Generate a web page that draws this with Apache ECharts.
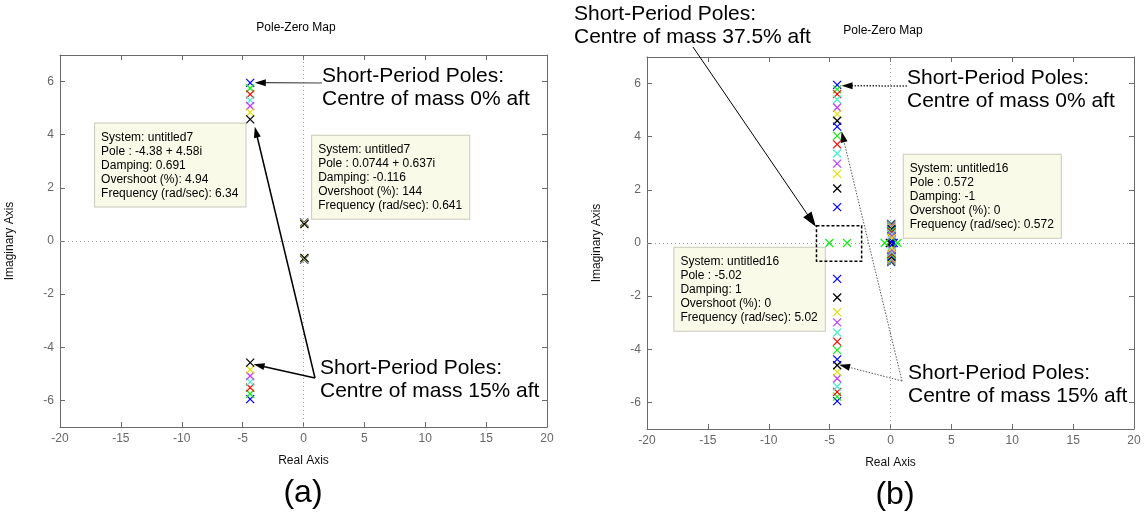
<!DOCTYPE html>
<html>
<head>
<meta charset="utf-8">
<script src="https://cdn.jsdelivr.net/npm/echarts@6/dist/echarts.min.js"></script>
<style>
  html, body { margin: 0; padding: 0; background: #fff; }
  #main { width: 1145px; height: 516px; }
</style>
</head>
<body>
<div id="main"></div>
<script>
const FONT = '"Liberation Sans", Arial, Helvetica, sans-serif';

// Colour cycle used for successive systems (b, g, r, c, m, y, k)
const poleColors = ['#0000ff', '#11ee11', '#ff0000', '#44f0cc', '#c23cff', '#e0e000', '#000000'];

// Axis ranges and ticks
const xRange = [-20, 20];
const xTickStep = 5;
const yRange = [-7, 7];
const yTickValues = [-6, -4, -2, 0, 2, 4, 6];

// Panel (a): seven systems, centre of mass 0% .. 15% aft
const aShortRe = [-4.38, -4.38, -4.38, -4.38, -4.38, -4.38, -4.38];
const aShortIm = [5.95, 5.75, 5.52, 5.30, 5.08, 4.84, 4.58];
const aPhugRe = [0.05, 0.06, 0.06, 0.07, 0.07, 0.07, 0.0744];
const aPhugIm = [0.70, 0.69, 0.68, 0.67, 0.66, 0.65, 0.637];

// Panel (b): sixteen systems, centre of mass 0% .. 37.5% aft
const bShortRe = [-4.38, -4.38, -4.38, -4.38, -4.38, -4.38, -4.38, -4.38,
                  -4.38, -4.38, -4.38, -4.38, -4.38, -4.38, -4.38];
const bShortIm = [5.95, 5.78, 5.60, 5.40, 5.10, 4.85, 4.60, 4.38,
                  4.03, 3.71, 3.37, 2.99, 2.60, 2.05, 1.35];
const bPhugRe = [0.06, 0.07, 0.06, 0.08, 0.07, 0.09, 0.08, 0.10, 0.09, 0.11, 0.10, 0.12, 0.11];
const bPhugIm = [0.72, 0.69, 0.66, 0.63, 0.60, 0.57, 0.53, 0.49, 0.45, 0.40, 0.34, 0.27, 0.19];
const bSys14Real = [0.0, -0.05];
const bSys15Real = [0.14, 0.26];
const bSys16Real = [-5.02, -3.56, -0.47, 0.572];

// ---- build pole lists per system ----
function pair(re, im) { return [[re, im], [re, -im]]; }

const aSystems = aShortIm.map((im, i) =>
  pair(aShortRe[i], im).concat(pair(aPhugRe[i], aPhugIm[i])));

const bSystems = [];
for (let i = 0; i < 16; i++) {
  let pts = [];
  if (i < bShortIm.length) pts = pts.concat(pair(bShortRe[i], bShortIm[i]));
  if (i < bPhugIm.length) pts = pts.concat(pair(bPhugRe[i], bPhugIm[i]));
  if (i === 13) pts = pts.concat(bSys14Real.map(r => [r, 0]));
  if (i === 14) pts = pts.concat(bSys15Real.map(r => [r, 0]));
  if (i === 15) pts = pts.concat(bSys16Real.map(r => [r, 0]));
  bSystems.push(pts);
}

// ---- "x" pole marker ----
function renderPole(params, api) {
  const p = api.coord([api.value(0), api.value(1)]);
  const s = 4;
  const c = api.visual('color');
  return {
    type: 'group',
    children: [
      { type: 'line', shape: { x1: p[0] - s, y1: p[1] - s, x2: p[0] + s, y2: p[1] + s },
        style: { stroke: c, lineWidth: 1.2 } },
      { type: 'line', shape: { x1: p[0] - s, y1: p[1] + s, x2: p[0] + s, y2: p[1] - s },
        style: { stroke: c, lineWidth: 1.2 } }
    ]
  };
}

function poleSeries(gridIdx, systems) {
  return systems.map((pts, i) => ({
    type: 'custom',
    name: 'untitled' + (i + 1),
    xAxisIndex: gridIdx * 2,
    yAxisIndex: gridIdx * 2,
    data: pts,
    itemStyle: { color: poleColors[i % poleColors.length] },
    renderItem: renderPole,
    z: 3,
    silent: true
  }));
}

function zeroLines(gridIdx) {
  return {
    type: 'scatter',
    xAxisIndex: gridIdx * 2,
    yAxisIndex: gridIdx * 2,
    data: [],
    z: 1,
    markLine: {
      silent: true,
      symbol: 'none',
      label: { show: false },
      lineStyle: { type: [1, 3], color: '#9a9a9a', width: 1 },
      data: [{ xAxis: 0 }, { yAxis: 0 }]
    }
  };
}

const AXIS_COLOR = '#6a6a6a';
function xAxes(gridIdx) {
  const base = {
    type: 'value', gridIndex: gridIdx, min: xRange[0], max: xRange[1], interval: xTickStep,
    splitLine: { show: false },
    axisLine: { onZero: false, lineStyle: { color: AXIS_COLOR, width: 1 } },
    axisTick: { inside: true, length: 5, lineStyle: { color: AXIS_COLOR } }
  };
  return [
    Object.assign({}, base, {
      position: 'bottom',
      name: 'Real Axis', nameLocation: 'middle', nameGap: 28,
      nameTextStyle: { color: '#111', fontFamily: FONT, fontSize: 12 },
      axisLabel: { color: '#666', fontFamily: FONT, fontSize: 12, margin: 6 }
    }),
    Object.assign({}, base, { position: 'top', axisLabel: { show: false } })
  ];
}
function yAxes(gridIdx) {
  const base = {
    type: 'value', gridIndex: gridIdx, min: yRange[0], max: yRange[1],
    splitLine: { show: false },
    axisLine: { onZero: false, lineStyle: { color: AXIS_COLOR, width: 1 } },
    axisTick: { inside: true, length: 5, lineStyle: { color: AXIS_COLOR }, customValues: yTickValues }
  };
  return [
    Object.assign({}, base, {
      position: 'left',
      name: 'Imaginary Axis', nameLocation: 'middle', nameGap: 44,
      nameTextStyle: { color: '#111', fontFamily: FONT, fontSize: 12 },
      axisLabel: { color: '#666', fontFamily: FONT, fontSize: 12, margin: 6, customValues: yTickValues }
    }),
    Object.assign({}, base, { position: 'right', axisLabel: { show: false } })
  ];
}

const chart = echarts.init(document.getElementById('main'), null, { renderer: 'canvas' });

chart.setOption({
  animation: false,
  backgroundColor: '#ffffff',
  grid: [
    { left: 60, top: 55, width: 487, height: 372, show: false },
    { left: 647, top: 57, width: 487, height: 372, show: false }
  ],
  xAxis: xAxes(0).concat(xAxes(1)),
  yAxis: yAxes(0).concat(yAxes(1)),
  series: [zeroLines(0), zeroLines(1)]
    .concat(poleSeries(0, aSystems))
    .concat(poleSeries(1, bSystems))
});

// ---- annotations: titles, data tips, callouts and arrows ----
function toPx(g, pt) { return chart.convertToPixel({ gridIndex: g }, pt); }

function label(text, x, y, size, opts) {
  return {
    type: 'text', z: 20, silent: true,
    style: Object.assign({
      text: text, x: x, y: y, fill: '#000',
      font: size + 'px ' + FONT, align: 'center', verticalAlign: 'middle'
    }, opts || {})
  };
}

function callout(lines, x, yTop) {
  return {
    type: 'text', z: 20, silent: true,
    style: {
      text: lines.join('\n'), x: x, y: yTop, fill: '#000',
      font: '21px ' + FONT, lineHeight: 23, align: 'left', verticalAlign: 'top'
    }
  };
}

function dataTip(g, anchor, lines) {
  const p = toPx(g, anchor);
  return {
    type: 'text', z: 15, silent: true,
    style: {
      text: lines.join('\n'), x: p[0], y: p[1], fill: '#000',
      font: '12px ' + FONT, lineHeight: 14, align: 'left', verticalAlign: 'top',
      backgroundColor: '#fafae8', borderColor: '#c9c9bd', borderWidth: 1,
      padding: [7, 7, 6, 6]
    }
  };
}

function arrow(tail, tip, o) {
  const dx = tip[0] - tail[0], dy = tip[1] - tail[1];
  const len = Math.sqrt(dx * dx + dy * dy);
  const ux = dx / len, uy = dy / len;
  const bx = tip[0] - ux * o.head, by = tip[1] - uy * o.head;
  const hw = o.width / 2;
  return [
    { type: 'line', z: 18, silent: true,
      shape: { x1: tail[0], y1: tail[1], x2: bx + ux * 1, y2: by + uy * 1 },
      style: { stroke: o.color, lineWidth: o.lineWidth, lineDash: o.dash || null } },
    { type: 'polygon', z: 18, silent: true,
      shape: { points: [[tip[0], tip[1]], [bx - uy * hw, by + ux * hw], [bx + uy * hw, by - ux * hw]] },
      style: { fill: '#000' } }
  ];
}

// dashed box around the real short-period poles of untitled16
const boxTL = toPx(1, [-6.08, 0.65]);
const boxBR = toPx(1, [-2.37, -0.69]);

const solidA = { color: '#000', lineWidth: 1.5, head: 11, width: 7 };
const graphics = [
  label('Pole-Zero Map', 296, 28, 12),
  label('Pole-Zero Map', 883, 31, 12),
  label('(a)', 303, 493, 32),
  label('(b)', 895, 495, 32),

  dataTip(0, [-17.12, 4.42], ['System: untitled7', 'Pole : -4.38 + 4.58i', 'Damping: 0.691',
    'Overshoot (%): 4.94', 'Frequency (rad/sec): 6.34']),
  dataTip(0, [0.71, 3.96], ['System: untitled7', 'Pole : 0.0744 + 0.637i', 'Damping: -0.116',
    'Overshoot (%): 144', 'Frequency (rad/sec): 0.641']),
  dataTip(1, [1.09, 3.32], ['System: untitled16', 'Pole : 0.572', 'Damping: -1',
    'Overshoot (%): 0', 'Frequency (rad/sec): 0.572']),
  dataTip(1, [-17.75, -0.18], ['System: untitled16', 'Pole : -5.02', 'Damping: 1',
    'Overshoot (%): 0', 'Frequency (rad/sec): 5.02']),

  callout(['Short-Period Poles:', 'Centre of mass 0% aft'], 322, 65),
  callout(['Short-Period Poles:', 'Centre of mass 15% aft'], 320, 357),
  callout(['Short-Period Poles:', 'Centre of mass 37.5% aft'], 574, 3),
  callout(['Short-Period Poles:', 'Centre of mass 0% aft'], 907, 67),
  callout(['Short-Period Poles:', 'Centre of mass 15% aft'], 908, 362),

  { type: 'rect', z: 16, silent: true,
    shape: { x: boxTL[0], y: boxTL[1], width: boxBR[0] - boxTL[0], height: boxBR[1] - boxTL[1] },
    style: { fill: 'none', stroke: '#000', lineWidth: 1.5, lineDash: [3, 2] } }
]
  .concat(arrow([322, 83], toPx(0, [-4.0, 5.96]), { color: '#444', lineWidth: 1.2, head: 11, width: 7 }))
  .concat(arrow([315, 378], toPx(0, [-4.0, 4.3]), solidA))
  .concat(arrow([315, 378], toPx(0, [-4.1, -4.64]), solidA))
  .concat(arrow([907, 86], toPx(1, [-4.02, 5.92]), { color: '#333', lineWidth: 1.5, head: 11, width: 7, dash: [1.5, 1.5] }))
  .concat(arrow([693, 47], toPx(1, [-6.13, 0.61]), { color: '#000', lineWidth: 1, head: 15, width: 10 }))
  .concat(arrow([902, 381], toPx(1, [-4.02, 4.2]), { color: '#555', lineWidth: 1, head: 11, width: 7, dash: [1.5, 1.5] }))
  .concat(arrow([902, 381], toPx(1, [-4.22, -4.58]), { color: '#555', lineWidth: 1, head: 11, width: 7, dash: [1.5, 1.5] }));

chart.setOption({ graphic: graphics });
</script>
</body>
</html>
